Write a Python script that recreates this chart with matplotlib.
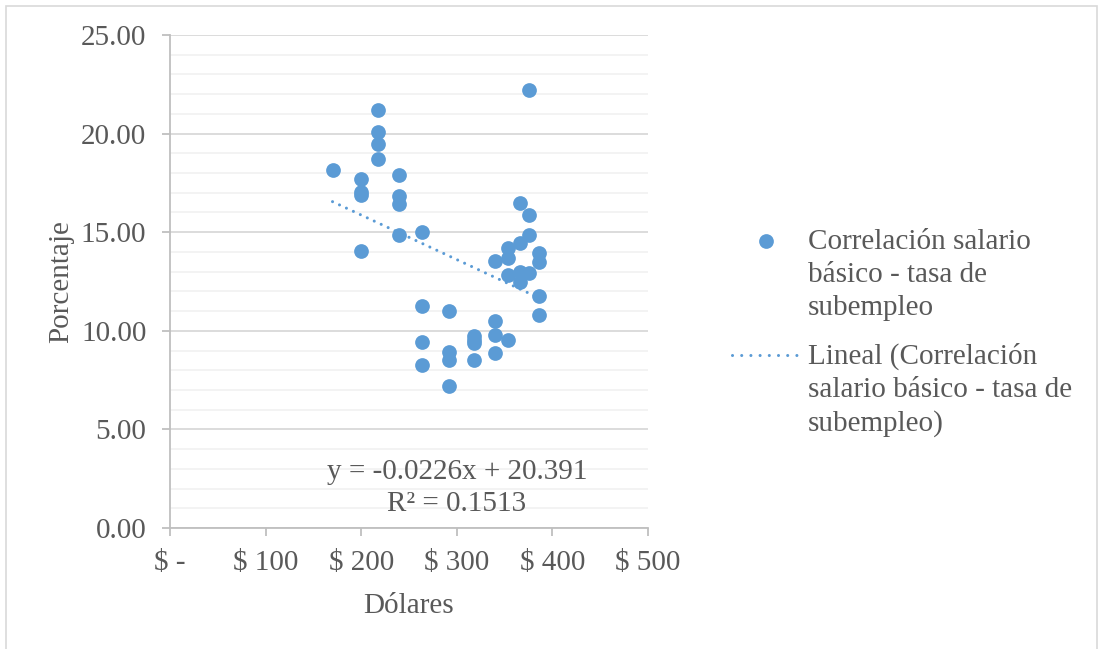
import matplotlib.pyplot as plt
from matplotlib.lines import Line2D
from matplotlib.patches import Rectangle
from matplotlib.ticker import MultipleLocator, FuncFormatter

# salario basico (USD) y tasa de subempleo (%)
salario = [170,
           200, 200, 200, 200,
           218, 218, 218, 218,
           240, 240, 240, 240,
           264, 264, 264, 264,
           292, 292, 292, 292,
           318, 318, 318, 318,
           340, 340, 340, 340,
           354, 354, 354, 354,
           366, 366, 366, 366,
           375, 375, 375, 375,
           386, 386, 386, 386]
tasa = [18.15,
        17.70, 17.05, 16.88, 14.03,
        21.22, 20.10, 19.47, 18.72,
        17.90, 16.85, 16.43, 14.86,
        15.03, 11.24, 9.43, 8.28,
        10.98, 8.92, 8.52, 7.18,
        9.75, 9.55, 9.38, 8.54,
        13.52, 10.51, 9.80, 8.87,
        14.18, 13.68, 12.83, 9.53,
        16.47, 14.43, 12.98, 12.45,
        22.21, 15.88, 14.87, 12.93,
        13.96, 13.51, 11.75, 10.79]

pendiente = -0.0226
intercepto = 20.391
r2 = 0.1513

x_ticks = [0, 100, 200, 300, 400, 500]
y_ticks = [0, 5, 10, 15, 20, 25]

AZUL = '#5b9bd5'
GRIS = '#595959'
FS = 21

plt.rcParams['font.family'] = ['Liberation Serif', 'DejaVu Serif']

fig = plt.figure(figsize=(10.99, 6.49), dpi=100)
W, H = 1099, 649
ax = fig.add_axes([170 / W, 1 - 528 / H, (648 - 170) / W, (528 - 35) / H])

ax.plot(salario, tasa, 'o', color=AZUL, markersize=10.6, markeredgewidth=0, zorder=3)

x0, x1 = min(salario), max(salario)
ax.plot([x0, x1], [intercepto + pendiente * x0, intercepto + pendiente * x1],
        color=AZUL, linewidth=2.2, linestyle=(0, (0.01, 2.5)),
        dash_capstyle='round', zorder=2)

ax.set_xlim(0, 500)
ax.set_ylim(0, 25)
ax.set_xticks(x_ticks)
ax.set_yticks(y_ticks)
ax.yaxis.set_minor_locator(MultipleLocator(1))
ax.xaxis.set_major_formatter(FuncFormatter(lambda v, p: '$ -' if v == 0 else f'$ {v:.0f}'))
ax.yaxis.set_major_formatter(FuncFormatter(lambda v, p: f'{v:.2f}'))

ax.grid(axis='y', which='major', color='#d9d9d9', linewidth=1.3, zorder=0)
ax.grid(axis='y', which='minor', color='#f2f2f2', linewidth=1.3, zorder=0)
ax.set_axisbelow(True)

for s in ['top', 'right']:
    ax.spines[s].set_visible(False)
for s in ['left', 'bottom']:
    ax.spines[s].set_color('#bfbfbf')
    ax.spines[s].set_linewidth(1.3)

ax.tick_params(axis='both', which='major', direction='out', length=6,
               width=1.3, color='#bfbfbf', labelcolor=GRIS, labelsize=FS)
ax.tick_params(axis='y', which='major', pad=11)
ax.tick_params(axis='x', which='major', pad=10)
ax.tick_params(axis='y', which='minor', length=0)

ax.set_xlabel('Dólares', fontsize=FS, color=GRIS, labelpad=12)
ax.set_ylabel('Porcentaje', fontsize=FS, color=GRIS, labelpad=5)

ax.text(300, 2.05, f'y = {pendiente}x + {intercepto}\nR² = {r2}',
        ha='center', va='center', multialignment='center',
        fontsize=FS, color=GRIS, linespacing=1.3)

# leyenda
fig.add_artist(Line2D([766 / W], [1 - 241 / H], marker='o', color=AZUL,
                      markersize=10.6, markeredgewidth=0, linestyle='none'))
fig.text(808 / W, 1 - 229 / H, 'Correlación salario\nbásico - tasa de\nsubempleo',
         ha='left', va='top', fontsize=FS, color=GRIS, linespacing=1.36,
         transform=fig.transFigure)
fig.add_artist(Line2D([732 / W, 800 / W], [1 - 355 / H, 1 - 355 / H], color=AZUL,
                      linewidth=2.2, linestyle=(0, (0.01, 3.0)), dash_capstyle='round'))
fig.text(808 / W, 1 - 343 / H, 'Lineal (Correlación\nsalario básico - tasa de\nsubempleo)',
         ha='left', va='top', fontsize=FS, color=GRIS, linespacing=1.33,
         transform=fig.transFigure)

# borde del grafico
fig.add_artist(Rectangle((6 / W, -0.05), (1097 - 6) / W, 1.05 - 6 / H,
                         transform=fig.transFigure, fill=False,
                         edgecolor='#d9d9d9', linewidth=1.2))

fig.savefig('out.png', dpi=100)
